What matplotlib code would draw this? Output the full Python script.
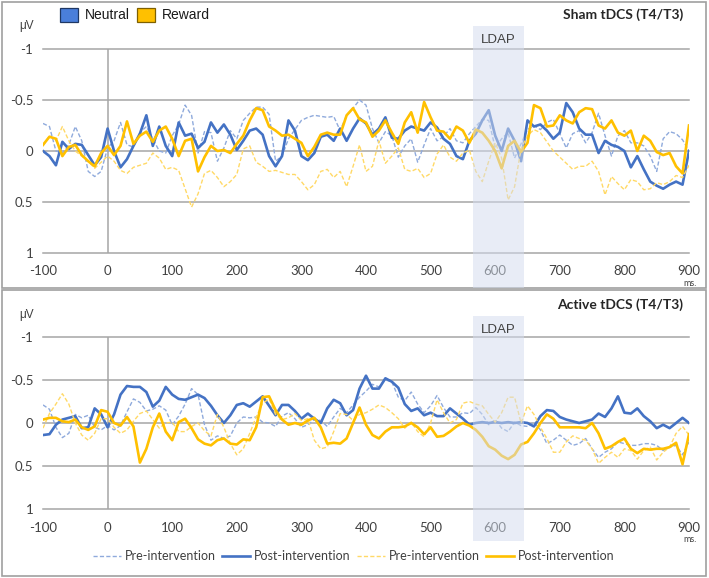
import numpy as np
import matplotlib
matplotlib.use('Agg')
import matplotlib.pyplot as plt
import matplotlib.transforms as mtransforms
from matplotlib.patches import Rectangle
from matplotlib.lines import Line2D

plt.rcParams['font.family'] = ['Lato', 'DejaVu Sans']
plt.rcParams['axes.unicode_minus'] = False

# time axis (ms), one value every 10 ms
time_ms = np.arange(-100, 901, 10)

# Sham tDCS (T4/T3), amplitudes in microvolts
sham_neutral_pre = [
    -0.27, -0.24, 0.00, 0.02, -0.06, -0.24, -0.10, 0.20, 0.25, 0.20,
    -0.03, -0.10, -0.28, -0.06, -0.04, -0.18, -0.24, -0.12, 0.00, 0.02,
    -0.15, -0.26, -0.45, -0.35, 0.02, -0.19, -0.18, 0.10, -0.03, -0.20,
    -0.12, -0.30, -0.37, -0.43, -0.43, -0.36, 0.10, 0.05, -0.12, -0.21,
    -0.30, -0.33, -0.35, -0.34, -0.33, -0.34, -0.20, -0.35, -0.42, -0.50,
    -0.45, -0.22, -0.08, -0.19, -0.15, 0.06, -0.05, -0.12, 0.11, -0.06,
    -0.22, -0.10, -0.14, -0.22, -0.10, -0.08, -0.17, -0.24, -0.31, -0.30,
    -0.03, -0.12, -0.18, 0.07, -0.07, -0.21, -0.25, -0.21, -0.28, -0.31,
    -0.17, -0.03, -0.17, -0.20, -0.08, -0.18, -0.37, -0.15, 0.05, -0.15,
    -0.20, -0.08, -0.08, -0.05, 0.05, 0.20, -0.12, -0.19, -0.17, -0.11,
    0.00]
sham_neutral_post = [
    0.00, 0.05, 0.14, -0.09, -0.02, -0.07, -0.06, 0.04, 0.14, 0.06,
    -0.22, 0.00, 0.16, 0.08, -0.05, -0.17, -0.35, -0.05, -0.24, -0.05,
    0.05, -0.28, -0.15, -0.17, -0.03, -0.09, -0.28, -0.18, -0.26, -0.16,
    -0.01, -0.10, -0.20, -0.22, -0.16, 0.05, 0.15, 0.05, -0.30, -0.20,
    0.05, 0.09, 0.02, -0.14, -0.16, -0.10, -0.22, -0.10, -0.22, -0.32,
    -0.27, -0.16, -0.22, -0.33, -0.13, -0.12, -0.20, -0.24, -0.22, -0.20,
    -0.28, -0.23, -0.12, -0.07, 0.05, 0.08, -0.10, -0.17, -0.30, -0.40,
    -0.15, 0.00, -0.22, -0.10, 0.10, -0.30, -0.24, -0.26, -0.20, -0.12,
    -0.18, -0.47, -0.38, -0.22, -0.16, -0.16, 0.02, -0.10, -0.06, -0.04,
    0.00, 0.16, 0.05, 0.18, 0.30, 0.34, 0.37, 0.33, 0.30, 0.33,
    0.00]
sham_reward_pre = [
    -0.05, -0.15, -0.10, -0.24, -0.10, 0.00, 0.05, 0.10, 0.17, 0.11,
    0.05, 0.10, 0.19, 0.22, 0.16, 0.14, 0.12, 0.02, 0.07, 0.18,
    0.16, 0.19, 0.37, 0.55, 0.42, 0.22, 0.19, 0.26, 0.35, 0.30,
    0.23, -0.02, -0.05, 0.11, 0.15, 0.20, 0.19, 0.21, 0.23, 0.23,
    0.30, 0.38, 0.33, 0.20, 0.18, 0.26, 0.20, 0.35, 0.15, -0.06,
    0.20, 0.15, -0.10, 0.12, 0.05, -0.03, 0.18, 0.20, 0.17, 0.26,
    0.22, 0.03, -0.06, 0.06, 0.10, 0.02, -0.01, 0.20, 0.30, 0.10,
    -0.08, 0.07, 0.48, 0.35, -0.02, -0.15, -0.21, -0.18, -0.09, 0.00,
    0.06, 0.12, 0.18, 0.15, 0.15, 0.10, 0.20, 0.43, 0.25, 0.32,
    0.38, 0.28, 0.30, 0.38, 0.37, 0.31, 0.33, 0.30, 0.24, 0.26,
    0.14]
sham_reward_post = [
    -0.06, -0.14, -0.12, 0.05, -0.04, -0.06, 0.04, 0.10, 0.15, 0.02,
    -0.05, 0.04, -0.05, -0.29, -0.07, -0.15, -0.19, -0.09, -0.20, -0.24,
    -0.12, 0.05, -0.10, -0.12, 0.20, 0.06, -0.05, 0.00, -0.01, 0.02,
    -0.07, -0.15, -0.30, -0.42, -0.40, -0.24, -0.20, -0.15, -0.16, -0.12,
    -0.08, 0.05, -0.04, -0.16, -0.18, -0.16, -0.16, -0.35, -0.42, -0.31,
    -0.28, -0.14, -0.20, -0.30, -0.18, -0.07, -0.28, -0.38, -0.18, -0.48,
    -0.33, -0.20, -0.19, -0.12, -0.24, -0.20, -0.08, -0.21, -0.18, -0.10,
    0.00, 0.17, -0.05, -0.10, 0.01, -0.08, -0.45, -0.42, -0.24, -0.25,
    -0.35, -0.30, -0.27, -0.38, -0.42, -0.41, -0.25, -0.22, -0.30, -0.18,
    -0.15, -0.20, 0.00, -0.15, -0.10, 0.01, 0.04, 0.02, 0.15, 0.22,
    -0.25]

# Active tDCS (T4/T3)
active_neutral_pre = [
    -0.21, -0.16, 0.05, 0.17, 0.12, -0.10, -0.06, -0.09, 0.05, 0.08,
    0.03, 0.08, 0.03, -0.13, -0.28, -0.24, -0.14, -0.16, -0.20, -0.15,
    0.02, -0.08, -0.22, -0.40, -0.33, 0.02, 0.20, 0.15, 0.18, 0.15,
    0.00, -0.07, -0.06, -0.07, -0.01, 0.00, 0.04, -0.08, -0.12, -0.05,
    0.05, 0.02, -0.04, -0.03, 0.04, -0.07, -0.17, -0.12, -0.21, -0.30,
    -0.37, -0.45, -0.42, -0.50, -0.48, -0.30, -0.26, -0.36, -0.22, -0.12,
    -0.20, -0.32, -0.18, -0.07, -0.07, -0.12, -0.11, -0.18, -0.10, 0.02,
    -0.04, 0.06, 0.10, -0.01, 0.03, 0.04, -0.01, 0.08, 0.24, 0.20,
    0.14, 0.20, 0.26, 0.24, 0.18, 0.30, 0.40, 0.34, 0.30, 0.22,
    0.24, 0.26, 0.26, 0.24, 0.24, 0.26, 0.32, 0.28, 0.26, 0.37,
    0.22]
active_neutral_post = [
    0.14, 0.13, 0.02, -0.04, -0.06, -0.08, 0.06, 0.05, -0.17, -0.10,
    0.05, -0.10, -0.33, -0.43, -0.42, -0.42, -0.36, -0.19, -0.26, -0.42,
    -0.33, -0.28, -0.27, -0.30, -0.33, -0.29, -0.20, -0.09, 0.00, -0.09,
    -0.21, -0.23, -0.19, -0.25, -0.31, -0.20, -0.09, -0.21, -0.21, -0.14,
    -0.05, -0.11, -0.05, 0.00, -0.17, -0.27, -0.23, -0.09, -0.15, -0.40,
    -0.55, -0.40, -0.40, -0.52, -0.48, -0.41, -0.22, -0.14, -0.17, -0.09,
    -0.12, -0.08, -0.08, -0.17, -0.11, -0.05, 0.02, 0.00, -0.01, 0.00,
    -0.01, 0.00, -0.01, 0.00, -0.01, 0.00, 0.04, -0.08, -0.15, -0.14,
    -0.07, -0.04, -0.02, 0.00, -0.02, -0.04, -0.11, -0.07, -0.17, -0.31,
    -0.12, -0.11, -0.17, -0.08, -0.02, 0.06, 0.02, 0.06, 0.00, -0.06,
    0.00]
active_reward_pre = [
    0.06, -0.11, -0.22, -0.34, -0.22, 0.00, 0.14, 0.20, 0.12, -0.05,
    -0.05, 0.05, 0.12, 0.08, -0.02, -0.11, -0.14, -0.04, 0.06, 0.00,
    -0.01, 0.10, 0.10, 0.04, 0.00, 0.09, 0.15, -0.10, 0.05, 0.24,
    0.37, 0.30, 0.12, -0.07, -0.23, -0.28, -0.10, -0.04, -0.06, -0.11,
    -0.03, -0.05, 0.20, 0.30, 0.28, 0.10, -0.11, -0.10, -0.03, -0.10,
    -0.12, -0.16, -0.21, -0.18, -0.12, -0.05, 0.06, -0.01, 0.10, 0.16,
    0.00, -0.27, -0.12, 0.00, -0.04, -0.23, -0.25, -0.22, -0.20, -0.10,
    -0.01, -0.12, -0.30, -0.30, 0.00, -0.20, -0.10, 0.05, 0.18, 0.34,
    0.34, 0.22, 0.15, 0.18, 0.20, 0.30, 0.47, 0.40, 0.34, 0.40,
    0.30, 0.32, 0.42, 0.32, 0.28, 0.43, 0.34, 0.28, 0.12, 0.04,
    0.14]
active_reward_post = [
    -0.04, -0.06, -0.06, -0.02, -0.01, -0.04, 0.05, 0.08, 0.04, -0.15,
    -0.13, 0.00, 0.03, -0.07, 0.04, 0.46, 0.30, 0.05, -0.11, 0.10,
    0.20, -0.01, -0.05, 0.06, 0.19, 0.24, 0.26, 0.20, 0.18, 0.24,
    0.25, 0.19, 0.20, 0.05, -0.30, -0.31, -0.15, -0.04, 0.02, 0.00,
    0.02, -0.03, -0.06, 0.05, 0.24, 0.23, 0.24, 0.18, 0.00, -0.18,
    0.02, 0.14, 0.18, 0.10, 0.05, 0.05, 0.04, 0.00, 0.05, 0.13,
    0.05, 0.16, 0.15, 0.10, 0.04, 0.00, 0.03, 0.08, 0.16, 0.27,
    0.31, 0.38, 0.42, 0.37, 0.25, 0.22, 0.12, 0.00, -0.10, -0.05,
    0.05, 0.05, 0.05, 0.05, 0.06, 0.00, 0.12, 0.30, 0.27, 0.22,
    0.18, 0.30, 0.35, 0.30, 0.31, 0.30, 0.30, 0.28, 0.23, 0.48,
    0.13]

ldap_window = (566, 644)
x_ticks = list(range(-100, 901, 100))
y_ticks = [-1, -0.5, 0, 0.5, 1]
y_tick_labels = ['-1', '-0.5', '0', '0.5', '1']
legend_labels = ['Pre-intervention', 'Post-intervention',
                 'Pre-intervention', 'Post-intervention']

BLUE = '#4472C4'
BLUE_LIGHT = '#8FAADC'
GOLD = '#FFC000'
GOLD_LIGHT = '#FFD966'
GRID = '#A6A6A6'
TEXT = '#404040'

W, H = 709, 578
fig = plt.figure(figsize=(W / 100, H / 100), dpi=100)


def px_box(left, top, right, bottom):
    return [left / W, 1 - bottom / H, (right - left) / W, (bottom - top) / H]


def draw_panel(ax, neu_pre, neu_post, rew_pre, rew_post):
    for y in y_ticks:
        ax.axhline(y, color=GRID, lw=1.1, zorder=0, clip_on=False)
    ax.plot([0, 0], [-1, 1], color=GRID, lw=1.1, zorder=0)
    ax.plot(time_ms, neu_pre, color=BLUE_LIGHT, lw=1.0, dashes=(3, 1.6))
    ax.plot(time_ms, neu_post, color=BLUE, lw=1.9, solid_joinstyle='round')
    ax.plot(time_ms, rew_pre, color=GOLD_LIGHT, lw=1.0, dashes=(3, 1.6))
    ax.plot(time_ms, rew_post, color=GOLD, lw=1.9, solid_joinstyle='round')
    ax.set_xlim(-100, 900)
    ax.set_ylim(1, -1)
    ax.set_xticks(x_ticks)
    ax.set_yticks(y_ticks, y_tick_labels)
    for s in ax.spines.values():
        s.set_visible(False)
    ax.tick_params(axis='both', length=0, labelsize=9.5, labelcolor=TEXT)
    ax.tick_params(axis='y', pad=7)
    ax.tick_params(axis='x', pad=9)
    ax.patch.set_alpha(0)


ax_top = fig.add_axes(px_box(43, 49, 689, 253))
ax_bot = fig.add_axes(px_box(43, 337, 689, 509))
draw_panel(ax_top, sham_neutral_pre, sham_neutral_post, sham_reward_pre, sham_reward_post)
draw_panel(ax_bot, active_neutral_pre, active_neutral_post, active_reward_pre, active_reward_post)

# panel frames
for box in [(2, 2, 706, 288), (2, 290, 706, 576)]:
    fig.add_artist(Rectangle(px_box(*box)[:2], px_box(*box)[2], px_box(*box)[3],
                             transform=fig.transFigure, facecolor='none',
                             edgecolor='#A0A0A0', lw=1.2))

# LDAP window, drawn over the curves
for ax, top_px, bot_px, label_px in [(ax_top, 26, 288, 40), (ax_bot, 316, 541, 330)]:
    tr = mtransforms.blended_transform_factory(ax.transData, fig.transFigure)
    fig.add_artist(Rectangle((ldap_window[0], 1 - bot_px / H),
                             ldap_window[1] - ldap_window[0], (bot_px - top_px) / H,
                             transform=tr, facecolor='#D3DCEE', alpha=0.52, lw=0, zorder=10))
    fig.text(sum(ldap_window) / 2, 1 - label_px / H, 'LDAP', transform=tr,
             ha='center', va='center', fontsize=9.5, family='Liberation Sans',
             color=TEXT, zorder=11)

# titles and units
fig.text(683 / W, 1 - 15 / H, 'Sham tDCS (T4/T3)', ha='right', va='center',
         fontsize=10, fontweight='bold', color='#262626')
fig.text(683 / W, 1 - 305 / H, 'Active tDCS (T4/T3)', ha='right', va='center',
         fontsize=10, fontweight='bold', color='#262626')
for y in (26, 315):
    fig.text(27 / W, 1 - y / H, 'μV', ha='center', va='center', fontsize=8.5,
             color=TEXT, family=['Liberation Sans', 'DejaVu Sans'])
for y in (283, 540):
    fig.text(690 / W, 1 - y / H, 'ms.', ha='center', va='center', fontsize=6.5, color=TEXT)

# condition legend (top)
for x0, face, edge, label in [(60, '#4A7FDB', '#1F3864', 'Neutral'),
                              (137, GOLD, '#7F6000', 'Reward')]:
    b = px_box(x0, 8, x0 + 18, 22)
    fig.add_artist(Rectangle(b[:2], b[2], b[3], transform=fig.transFigure,
                             facecolor=face, edgecolor=edge, lw=0.9))
    fig.text((x0 + 25) / W, 1 - 15 / H, label, ha='left', va='center',
             fontsize=10, family='Liberation Sans', color='#1A1A1A')

# line style legend (bottom)
handles = [Line2D([], [], color=BLUE_LIGHT, lw=1.0, dashes=(3, 1.6)),
           Line2D([], [], color=BLUE, lw=1.9),
           Line2D([], [], color=GOLD_LIGHT, lw=1.0, dashes=(3, 1.6)),
           Line2D([], [], color=GOLD, lw=1.9)]
fig.legend(handles, legend_labels, loc='center', ncol=4,
           bbox_to_anchor=(354 / W, 1 - 556 / H), frameon=False, fontsize=9,
           handlelength=2.2, handletextpad=0.35, columnspacing=0.5,
           labelcolor=TEXT)

fig.savefig('out.png', dpi=100)
